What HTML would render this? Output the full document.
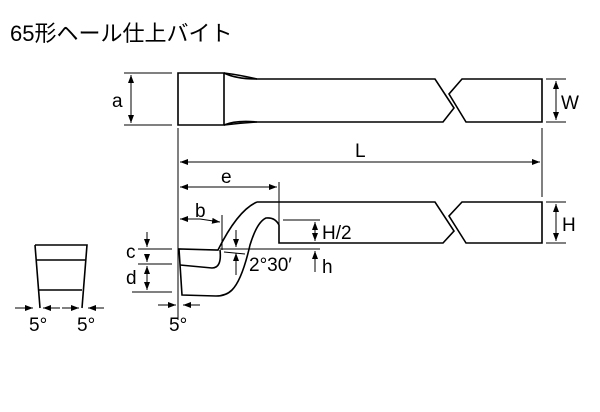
<!DOCTYPE html>
<html><head><meta charset="utf-8"><style>
body{margin:0;background:#fff;width:600px;height:412px;overflow:hidden}
svg{position:absolute;left:0;top:0}
text{font-family:"Liberation Sans","Noto Sans CJK JP",sans-serif;fill:#000}
</style></head><body>
<svg width="600" height="412" viewBox="0 0 600 412">
<defs><marker id="a" markerWidth="8" markerHeight="6" refX="8" refY="3" orient="auto" markerUnits="userSpaceOnUse"><path d="M0,0 L8,3 L0,6 z" fill="#000"/></marker></defs>
<text x="10" y="41" font-size="22">65形ヘール仕上バイト</text>
<g fill="none" stroke="#000" stroke-width="1.6">
<path d="M178,73 L224,73 L224,125 L178,125 Z"/>
<path d="M224,73 Q240,75 257,79 L435,79 L454,108 L443,122 L257,122 Q240,123 224,125"/>
<path d="M224,73 Q236,79 257,79 M224,125 Q236,120 257,122"/>
<path d="M462,79 L542,79 L542,122 L466,122 L449,94 Z"/>
<path d="M257,202 L435,202 L454,231 L443,243 L279,243 L279,225 Q275,217 266,218 Q257,222 250,245 Q242,280 232,290 Q226,296 216,296 L182,295 L179,249 L218,250 Q238,210 257,202"/>
<path d="M180,265 L212,268 Q222,268 220,250"/>
<path d="M462,202 L542,202 L542,243 L466,243 L449,216 Z"/>
<path d="M35,245 L87,245 L82,308 M35,245 L40,308 M36,260 L86,260 M39,290 L82,290"/>
</g>
<g fill="none" stroke="#000" stroke-width="1">
<path d="M124,73 L172,73 M124,125 L172,125"/>
<path d="M131,99 L131,75" marker-end="url(#a)"/><path d="M131,99 L131,123" marker-end="url(#a)"/>
<path d="M546,79 L566,79 M546,122 L566,122"/>
<path d="M556,100 L556,81" marker-end="url(#a)"/><path d="M556,100 L556,120" marker-end="url(#a)"/>
<path d="M546,202 L566,202 M546,243 L566,243"/>
<path d="M556,222 L556,204" marker-end="url(#a)"/><path d="M556,222 L556,241" marker-end="url(#a)"/>
<path d="M178,128 L178,320 M542,128 L542,197"/>
<path d="M360,162 L180,162" marker-end="url(#a)"/><path d="M360,162 L540,162" marker-end="url(#a)"/>
<path d="M279,182 L279,243"/>
<path d="M228,187 L180,187" marker-end="url(#a)"/><path d="M228,187 L277,187" marker-end="url(#a)"/>
<path d="M222,215 L222,250"/>
<path d="M200,219 L180,219" marker-end="url(#a)"/><path d="M200,219 L220,222" marker-end="url(#a)"/>
<path d="M283,220 L320,220 M220,249 L320,249"/>
<path d="M315,232 L315,222" marker-end="url(#a)"/><path d="M315,232 L315,241" marker-end="url(#a)"/>
<path d="M315,272 L315,251" marker-end="url(#a)"/>
<path d="M236,230 L236,247" marker-end="url(#a)"/><path d="M236,275 L236,253" marker-end="url(#a)"/>
<path d="M224,252 L245,254"/>
<path d="M138,249 L172,249 M138,264 L172,264 M132,292 L172,292"/>
<path d="M147,232 L147,247" marker-end="url(#a)"/><path d="M147,256 L147,262" marker-end="url(#a)"/>
<path d="M147,278 L147,266" marker-end="url(#a)"/><path d="M147,278 L147,290" marker-end="url(#a)"/>
<path d="M158,305 L176,305" marker-end="url(#a)"/><path d="M200,305 L183,305" marker-end="url(#a)"/>
<path d="M15,308 L33,308" marker-end="url(#a)"/><path d="M60,308 L43,308" marker-end="url(#a)"/>
<path d="M62,308 L79,308" marker-end="url(#a)"/><path d="M104,308 L88,308" marker-end="url(#a)"/>
</g>
<g font-size="19">
<text x="112" y="107">a</text>
<text x="561" y="109">W</text>
<text x="562" y="231">H</text>
<text x="355" y="157">L</text>
<text x="221" y="183">e</text>
<text x="195" y="217">b</text>
<text x="322" y="239">H/2</text>
<text x="322" y="273">h</text>
<text x="249" y="271">2°30′</text>
<text x="126" y="258">c</text>
<text x="126" y="284">d</text>
<text x="169" y="331">5°</text>
<text x="29" y="331">5°</text>
<text x="77" y="331">5°</text>
</g>
</svg>
</body></html>
